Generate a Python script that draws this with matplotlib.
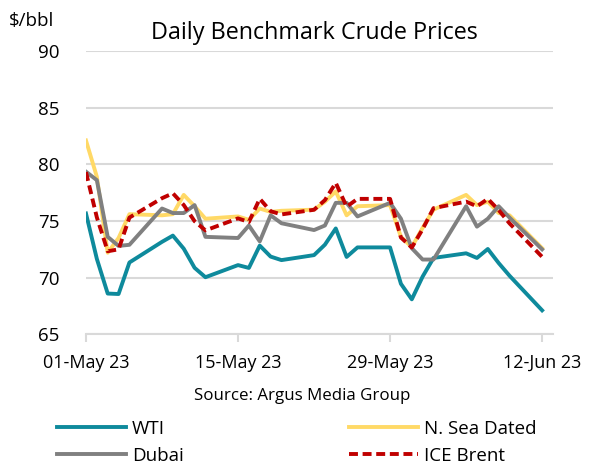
import matplotlib
matplotlib.use("Agg")
import matplotlib.pyplot as plt
import matplotlib.dates as mdates
import pandas as pd

plt.rcParams['font.family'] = ['Open Sans', 'DejaVu Sans']

# trading days 01-May-23 .. 12-Jun-23
dates = pd.bdate_range("2023-05-01", "2023-06-12")

wti = [75.66, 71.66, 68.60, 68.56, 71.34,
       73.16, 73.71, 72.56, 70.87, 70.04,
       71.11, 70.86, 72.83, 71.86, 71.55,
       71.99, 72.91, 74.34, 71.83, 72.67,
       72.67, 69.46, 68.09, 70.10, 71.74,
       72.15, 71.74, 72.53, 71.29, 70.17, 67.12]
dated = [82.1, 78.9, 72.2, 73.5, 75.6,
         75.5, 75.6, 77.3, 76.3, 75.2,
         75.4, 75.1, 76.1, 75.8, 75.9,
         76.0, 76.7, 77.6, 75.5, 76.3,
         76.4, 73.6, 72.7, 74.4, 76.0,
         77.3, 76.4, 76.7, 75.7, 75.5, 72.6]
dubai = [79.35, 78.6, 73.6, 72.8, 72.9,
         76.1, 75.7, 75.7, 76.4, 73.6,
         73.5, 74.6, 73.2, 75.5, 74.8,
         74.2, 74.6, 76.6, 76.6, 75.4,
         76.6, 75.2, 72.6, 71.6, 71.6,
         76.3, 74.5, 75.2, 76.3, 75.3, 72.5]
brent = [79.31, 75.32, 72.33, 72.50, 75.30,
         77.01, 77.44, 76.41, 74.98, 74.17,
         75.23, 74.91, 76.96, 75.86, 75.58,
         75.99, 76.84, 78.36, 76.26, 76.95,
         76.95, 73.54, 72.66, 74.28, 76.13,
         76.71, 76.29, 76.95, 75.96, 74.79, 71.84]

fig = plt.figure(figsize=(5.93, 4.67), dpi=100)
ax = fig.add_axes([0.145, 0.284, 0.7875, 0.607])

l_wti, = ax.plot(dates, wti, color='#0E8A9C', lw=2.8, label='WTI', zorder=3)
l_dub, = ax.plot(dates, dubai, color='#808080', lw=2.8, label='Dubai', zorder=4)
l_dat, = ax.plot(dates, dated, color='#FFD966', lw=2.8, label='N. Sea Dated', zorder=3)
l_brt, = ax.plot(dates, brent, color='#C00000', lw=2.8, ls=(0, (2.3, 1.2)), label='ICE Brent', zorder=5)

ax.set_ylim(65, 90)
ax.set_yticks(range(65, 91, 5))
ax.set_xlim(pd.Timestamp("2023-05-01"), pd.Timestamp("2023-06-13"))
ax.set_xticks(pd.to_datetime(["2023-05-01", "2023-05-15", "2023-05-29", "2023-06-12"]))
ax.xaxis.set_major_formatter(mdates.DateFormatter("%d-%b %y"))

ax.grid(axis='y', color='#D9D9D9', lw=1.5)
ax.set_axisbelow(True)
for s in ['top', 'right', 'left']:
    ax.spines[s].set_visible(False)
ax.spines['bottom'].set_color('#D9D9D9')
ax.spines['bottom'].set_linewidth(1.5)
ax.tick_params(axis='y', length=0, labelsize=13.5, pad=19)
ax.tick_params(axis='x', length=6, width=1.5, color='#D9D9D9', labelsize=13, pad=8)

fig.text(0.053, 0.955, "$/bbl", fontsize=13.5, ha='center', va='center')
fig.text(0.53, 0.93, "Daily Benchmark Crude Prices", fontsize=16.8, ha='center', va='center')
fig.text(0.51, 0.152, "Source: Argus Media Group", fontsize=12.2, ha='center', va='center')

fig.legend(handles=[l_wti, l_dub, l_dat, l_brt], loc='center', bbox_to_anchor=(0.5, 0.053),
           ncol=2, frameon=False, fontsize=13.5, handlelength=3.7, columnspacing=8.8,
           handletextpad=0.3, labelspacing=0.5)

fig.savefig("out.png", dpi=100)
